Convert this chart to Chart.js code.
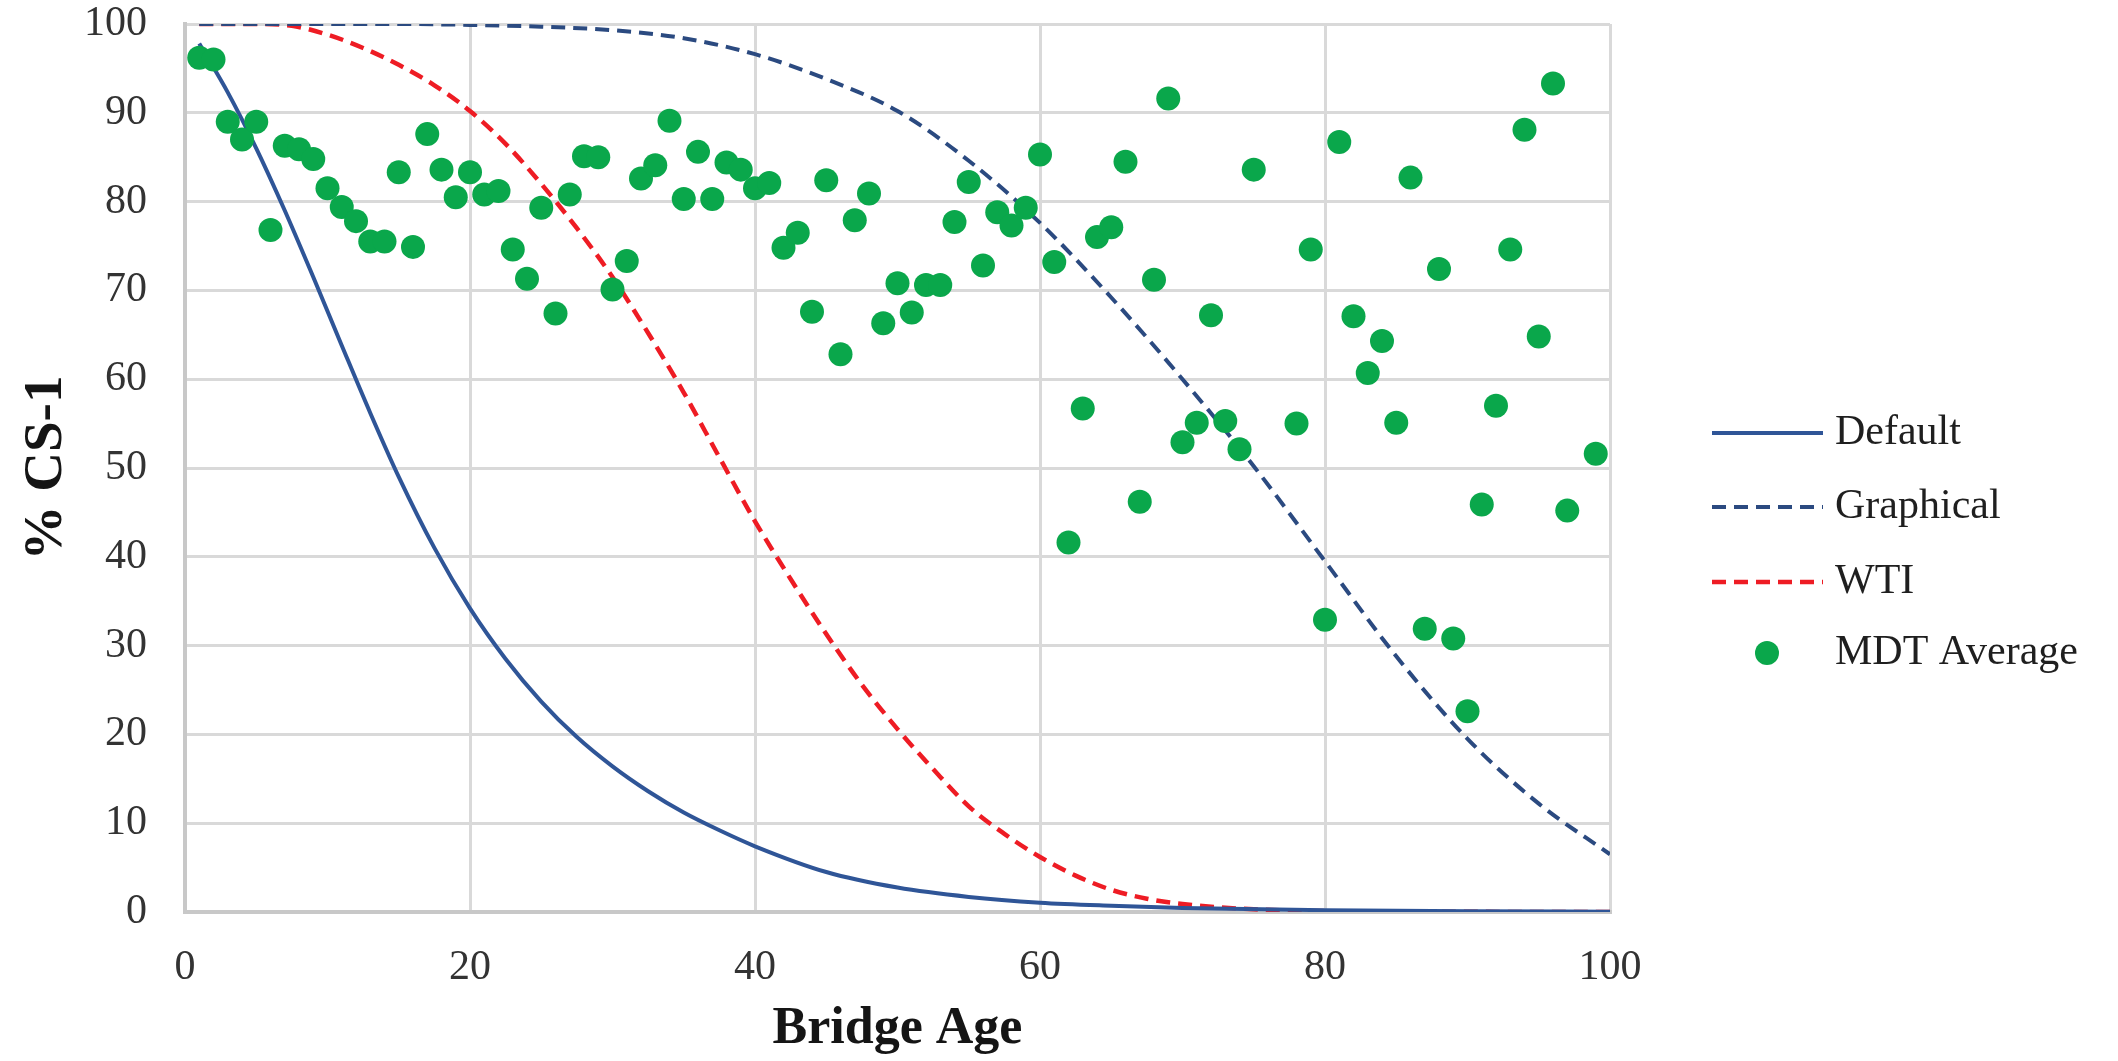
<!DOCTYPE html>
<html>
<head>
<meta charset="utf-8">
<title>% CS-1 vs Bridge Age</title>
<script src="https://cdn.jsdelivr.net/npm/chart.js@4.4.1/dist/chart.umd.min.js"></script>
<style>
  html, body { margin: 0; padding: 0; background: #fff; }
  #wrap { width: 2118px; height: 1061px; }
</style>
</head>
<body>
<div id="wrap"><canvas id="csChart" width="2118" height="1061"></canvas></div>
<script>
// Default curve
const defaultAge = [1, 3, 5, 7, 9, 11, 13, 15, 17.5, 20, 22.5, 25, 27.5, 30, 32.5, 35, 37.5, 40, 45, 50, 55, 60, 65, 70, 80, 90, 100];
const defaultPct = [97.8, 92.3, 86, 79, 71.5, 63.8, 56.2, 49, 41, 34.2, 28.5, 23.7, 19.7, 16.4, 13.6, 11.2, 9.2, 7.4, 4.5, 2.75, 1.7, 1.05, 0.7, 0.45, 0.2, 0.08, 0.03];

// Graphical curve
const graphicalAge = [1, 10, 15, 20, 25, 30, 35, 40, 45, 50, 55, 60, 65, 70, 75, 80, 85, 90, 95, 100];
const graphicalPct = [100, 100, 100, 99.9, 99.7, 99.3, 98.4, 96.6, 93.8, 90.2, 84.6, 77.6, 69.2, 60, 50.2, 39.5, 28.8, 19.5, 12.2, 6.5];

// WTI curve
const wtiAge = [1, 5, 7.5, 10, 12.5, 15, 17.5, 20, 22.5, 25, 27.5, 30, 32.5, 35, 37.5, 40, 42.5, 45, 47.5, 50, 52.5, 55, 57.5, 60, 62.5, 65, 67.5, 70, 75, 80, 90, 100];
const wtiPct = [100, 100, 99.8, 98.8, 97.3, 95.4, 93.1, 90.2, 86.5, 82, 77, 71.5, 65.2, 58.5, 51.2, 44, 37.5, 31.3, 25.6, 20.6, 16.1, 11.9, 8.8, 6.2, 4.1, 2.5, 1.5, 0.9, 0.3, 0.1, 0.02, 0];

// MDT Average points
const mdtAge = [1, 2, 3, 4, 5, 6, 7, 8, 9, 10, 11, 12, 13, 14, 15, 16, 17, 18, 19, 20,
  21, 22, 23, 24, 25, 26, 27, 28, 29, 30, 31, 32, 33, 34, 35, 36, 37, 38, 39, 40,
  41, 42, 43, 44, 45, 46, 47, 48, 49, 50, 51, 52, 53, 54, 55, 56, 57, 58, 59, 60,
  61, 62, 63, 64, 65, 66, 67, 68, 69, 70, 71, 72, 73, 74, 75, 78, 79, 80,
  81, 82, 83, 84, 85, 86, 87, 88, 89, 90, 91, 92, 93, 94, 95, 96, 97, 99];
const mdtPct = [96.2, 96.0, 89.0, 87.0, 89.0, 76.8, 86.3, 85.9, 84.8, 81.5, 79.4, 77.8, 75.5, 75.5, 83.3, 74.9, 87.6, 83.6, 80.5, 83.3,
  80.8, 81.2, 74.6, 71.3, 79.3, 67.4, 80.8, 85.1, 85.0, 70.1, 73.3, 82.6, 84.1, 89.1, 80.3, 85.6, 80.3, 84.4, 83.6, 81.5,
  82.1, 74.8, 76.5, 67.6, 82.4, 62.8, 77.9, 80.9, 66.3, 70.8, 67.5, 70.6, 70.6, 77.7, 82.2, 72.8, 78.8, 77.3, 79.3, 85.3,
  73.2, 41.6, 56.7, 76.0, 77.1, 84.5, 46.2, 71.2, 91.6, 52.9, 55.1, 67.2, 55.3, 52.1, 83.6, 55.0, 74.6, 32.9,
  86.7, 67.1, 60.7, 64.3, 55.1, 82.7, 31.9, 72.4, 30.8, 22.6, 45.9, 57.0, 74.6, 88.1, 64.8, 93.3, 45.2, 51.6];

const xTicks = [0, 20, 40, 60, 80, 100];
const yTicks = [0, 10, 20, 30, 40, 50, 60, 70, 80, 90, 100];

const toPoints = (xs, ys) => xs.map((x, i) => ({ x: x, y: ys[i] }));

const serif = "'Liberation Serif', 'Times New Roman', serif";

// leyenda a la derecha, dibujada a mano
const series = [
  { label: 'Default', color: '#2f5597', dash: [], width: 4, kind: 'line' },
  { label: 'Graphical', color: '#2b4a80', dash: [14, 8], width: 4, kind: 'line' },
  { label: 'WTI', color: '#ee1c24', dash: [14, 8], width: 4.5, kind: 'line' },
  { label: 'MDT Average', color: '#0aa74b', kind: 'dot' }
];

const legendPlugin = {
  id: 'sideLegend',
  afterDraw(chart) {
    const ctx = chart.ctx;
    const rows = [433, 507, 582, 653];
    ctx.save();
    series.forEach((s, i) => {
      const y = rows[i];
      if (s.kind === 'line') {
        ctx.beginPath();
        ctx.setLineDash(s.dash);
        ctx.strokeStyle = s.color;
        ctx.lineWidth = s.width;
        ctx.moveTo(1712, y);
        ctx.lineTo(1823, y);
        ctx.stroke();
      } else {
        ctx.beginPath();
        ctx.setLineDash([]);
        ctx.fillStyle = s.color;
        ctx.arc(1767, y, 12, 0, Math.PI * 2);
        ctx.fill();
      }
      ctx.fillStyle = '#1f1f1f';
      ctx.font = '42px ' + serif;
      ctx.textAlign = 'left';
      ctx.textBaseline = 'middle';
      ctx.fillText(s.label, 1835, y);
    });
    ctx.restore();
  }
};

new Chart(document.getElementById('csChart'), {
  type: 'scatter',
  data: {
    datasets: [
      {
        label: 'Default',
        data: toPoints(defaultAge, defaultPct),
        showLine: true,
        borderColor: series[0].color,
        borderWidth: series[0].width,
        pointRadius: 0,
        cubicInterpolationMode: 'monotone',
        order: 1
      },
      {
        label: 'Graphical',
        data: toPoints(graphicalAge, graphicalPct),
        showLine: true,
        borderColor: series[1].color,
        borderWidth: series[1].width,
        borderDash: series[1].dash,
        pointRadius: 0,
        cubicInterpolationMode: 'monotone',
        order: 2
      },
      {
        label: 'WTI',
        data: toPoints(wtiAge, wtiPct),
        showLine: true,
        borderColor: series[2].color,
        borderWidth: series[2].width,
        borderDash: series[2].dash,
        pointRadius: 0,
        cubicInterpolationMode: 'monotone',
        order: 3
      },
      {
        label: 'MDT Average',
        data: toPoints(mdtAge, mdtPct),
        showLine: false,
        backgroundColor: series[3].color,
        borderWidth: 0,
        pointRadius: 12,
        order: 0
      }
    ]
  },
  options: {
    responsive: false,
    animation: false,
    devicePixelRatio: 1,
    layout: { padding: { left: 0, right: 508, top: 24, bottom: 0 } },
    plugins: {
      legend: { display: false },
      tooltip: { enabled: false }
    },
    scales: {
      x: {
        type: 'linear',
        min: 0,
        max: 100,
        afterBuildTicks: (scale) => { scale.ticks = xTicks.map(v => ({ value: v })); },
        afterFit: (scale) => { scale.height = 149; },
        grid: { color: '#d9d9d9', lineWidth: 3, drawTicks: false },
        border: { color: '#c8c8c8', width: 4 },
        ticks: {
          padding: 31,
          color: '#333333',
          font: { family: serif, size: 42 }
        },
        title: {
          display: true,
          text: 'Bridge Age',
          color: '#151515',
          padding: { top: 0, bottom: 0 },
          font: { family: serif, size: 52, weight: 'bold' }
        }
      },
      y: {
        type: 'linear',
        min: 0,
        max: 100,
        afterBuildTicks: (scale) => { scale.ticks = yTicks.map(v => ({ value: v })); },
        afterFit: (scale) => {
          scale.width = 185;
          // que el padding de las etiquetas no empuje el área del gráfico
          scale.paddingTop = 0;
          scale.paddingBottom = 0;
        },
        grid: { color: '#d9d9d9', lineWidth: 3, drawTicks: false },
        border: { color: '#c8c8c8', width: 4 },
        ticks: {
          padding: 38,
          color: '#333333',
          font: { family: serif, size: 42 }
        },
        title: {
          display: true,
          text: '% CS-1',
          color: '#151515',
          padding: { top: 14, bottom: 0 },
          font: { family: serif, size: 55, weight: 'bold' }
        }
      }
    }
  },
  plugins: [legendPlugin]
});
</script>
</body>
</html>
